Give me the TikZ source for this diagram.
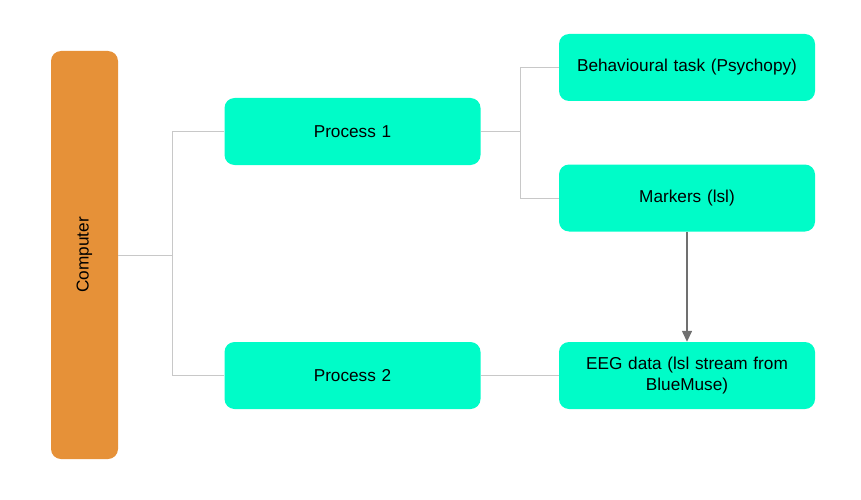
\documentclass[tikz,border=0pt]{standalone}
\usepackage{fontspec}
\setmainfont{Liberation Sans}
\usetikzlibrary{arrows.meta}
\definecolor{teal1}{HTML}{00FCC8}
\definecolor{orange1}{HTML}{E69138}
\definecolor{lin}{HTML}{C8C8C8}
\definecolor{arr}{HTML}{707070}
\begin{document}
\begin{tikzpicture}[x=1pt,y=-1pt,
  box/.style={fill=teal1,rounded corners=10pt,minimum width=256pt,minimum height=67pt,inner sep=0pt,align=center,font=\fontsize{17.2}{20.5}\selectfont,text width=240pt},
  conn/.style={draw=lin,line width=1pt},
  arrowline/.style={draw=arr,line width=1.4pt,-{Triangle[length=11pt,width=10pt]}}]
\useasboundingbox (0,0) rectangle (861,500);
\node[fill=orange1,rounded corners=10pt,minimum width=67pt,minimum height=408pt,inner sep=0pt] (comp) at (84.5,255) {};
\node[rotate=90,font=\fontsize{17.2}{20.5}\selectfont] (comptext) at (comp.center) {Computer};
\node[box] (p1) at (352.5,131.5) {Process 1};
\node[box] (p2) at (352.5,375.5) {Process 2};
\node[box] (beh) at (687,67.5) {Behavioural task (Psychopy)};
\node[box] (mark) at (687,198) {Markers (lsl)};
\node[box] (eeg) at (687,375.5) {EEG data (lsl stream from\\BlueMuse)};
\coordinate (j1) at (172,255);
\coordinate (j2) at (520,131.5);
\draw[conn] (comp.east) -- (j1) |- (p1.west);
\draw[conn] (j1) |- (p2.west);
\draw[conn] (p1.east) -- (j2) |- (beh.west);
\draw[conn] (j2) |- (mark.west);
\draw[conn] (p2.east) -- (eeg.west);
\draw[arrowline] (mark.south) -- (eeg.north);
\end{tikzpicture}
\end{document}
